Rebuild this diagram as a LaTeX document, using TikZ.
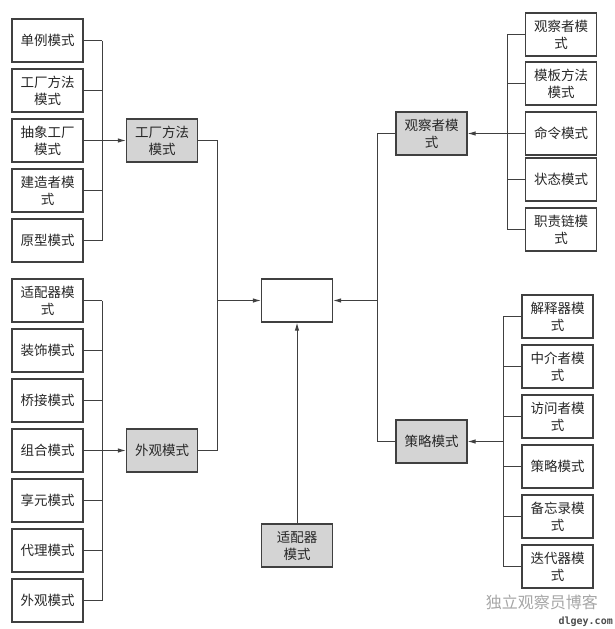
\documentclass[tikz,border=0pt]{standalone}
\usepackage{fontspec}
\newfontfamily\cjk{Noto Sans CJK SC}
\newfontfamily\wmmono{DejaVu Sans Mono}
\usetikzlibrary{arrows.meta}
\begin{document}
\begin{tikzpicture}[x=1pt,y=-1pt,
  box/.style={draw=black!75, line width=1.1pt, minimum width=71pt, minimum height=43pt, inner sep=0pt, align=center, font=\cjk\fontsize{13.5}{17}\selectfont, text=black!85},
  gbox/.style={box, fill=black!17},
  link/.style={draw=black!75, line width=1pt},
  arr/.style={link, -{Latex[length=8pt,width=4.5pt]}}]
\useasboundingbox (0,0) rectangle (615,629);
% left column
\node[box] (l1) at (47.5,40.5) {单例模式};
\node[box] (l2) at (47.5,90.5) {工厂方法\\模式};
\node[box] (l3) at (47.5,140.5) {抽象工厂\\模式};
\node[box] (l4) at (47.5,190.5) {建造者模\\式};
\node[box] (l5) at (47.5,240.5) {原型模式};
\node[box] (l6) at (47.5,300.5) {适配器模\\式};
\node[box] (l7) at (47.5,350.5) {装饰模式};
\node[box] (l8) at (47.5,400.5) {桥接模式};
\node[box] (l9) at (47.5,450.5) {组合模式};
\node[box] (l10) at (47.5,500.5) {享元模式};
\node[box] (l11) at (47.5,550.5) {代理模式};
\node[box] (l12) at (47.5,600.5) {外观模式};
% left gray
\node[gbox] (g1) at (162,140.5) {工厂方法\\模式};
\node[gbox] (g2) at (162,450.5) {外观模式};
% center
\node[box] (c) at (297,300.5) {};
\node[gbox] (b) at (297,545.5) {适配器\\模式};
% right gray
\node[gbox] (r1) at (431.5,133.5) {观察者模\\式};
\node[gbox] (r2) at (431.5,441.5) {策略模式};
% right top
\node[box] (t1) at (561,34.5) {观察者模\\式};
\node[box] (t2) at (561,83.5) {模板方法\\模式};
\node[box] (t3) at (561,133.5) {命令模式};
\node[box] (t4) at (561,179.5) {状态模式};
\node[box] (t5) at (561,229.5) {职责链模\\式};
% right bottom
\node[box] (s1) at (557.5,316.5) {解释器模\\式};
\node[box] (s2) at (557.5,366.5) {中介者模\\式};
\node[box] (s3) at (557.5,416.5) {访问者模\\式};
\node[box] (s4) at (557.5,466.5) {策略模式};
\node[box] (s5) at (557.5,516.5) {备忘录模\\式};
\node[box] (s6) at (557.5,566.5) {迭代器模\\式};
% bus coordinates
\coordinate (bl) at (102,0);
\coordinate (jl) at (217,0);
\coordinate (jr) at (377,0);
\coordinate (bt) at (507,0);
\coordinate (bs) at (503,0);
% left upper bus
\foreach \n in {l1,l2,l3,l4,l5} \draw[link] (\n.east) -- (\n.east -| bl);
\draw[link] (l1.east -| bl) -- (l5.east -| bl);
\draw[arr] (g1.west -| bl) -- (g1.west);
% left lower bus
\foreach \n in {l6,l7,l8,l9,l10,l11,l12} \draw[link] (\n.east) -- (\n.east -| bl);
\draw[link] (l6.east -| bl) -- (l12.east -| bl);
\draw[arr] (g2.west -| bl) -- (g2.west);
% left to center
\draw[link] (g1.east) -| (jl |- g2.east) -- (g2.east);
\draw[arr] (jl |- c.west) -- (c.west);
% right top bus
\foreach \n in {t1,t2,t3,t4,t5} \draw[link] (\n.west) -- (\n.west -| bt);
\draw[link] (t1.west -| bt) -- (t5.west -| bt);
\draw[arr] (r1.east -| bt) -- (r1.east);
% right bottom bus
\foreach \n in {s1,s2,s3,s4,s5,s6} \draw[link] (\n.west) -- (\n.west -| bs);
\draw[link] (s1.west -| bs) -- (s6.west -| bs);
\draw[arr] (r2.east -| bs) -- (r2.east);
% right to center
\draw[link] (r1.west) -| (jr |- r2.west) -- (r2.west);
\draw[arr] (jr |- c.east) -- (c.east);
% bottom
\draw[arr] (b.north) -- (c.south);
% watermark
\node[anchor=east, text=black!35, font=\cjk\fontsize{16}{18}\selectfont, inner sep=0pt] (wm) at (598,602) {独立观察员博客};
\node[anchor=east, text=black!70, font=\wmmono\bfseries\fontsize{10}{12}\selectfont, inner sep=0pt] (wm2) at (613,622) {dlgey.com};
\end{tikzpicture}
\end{document}
